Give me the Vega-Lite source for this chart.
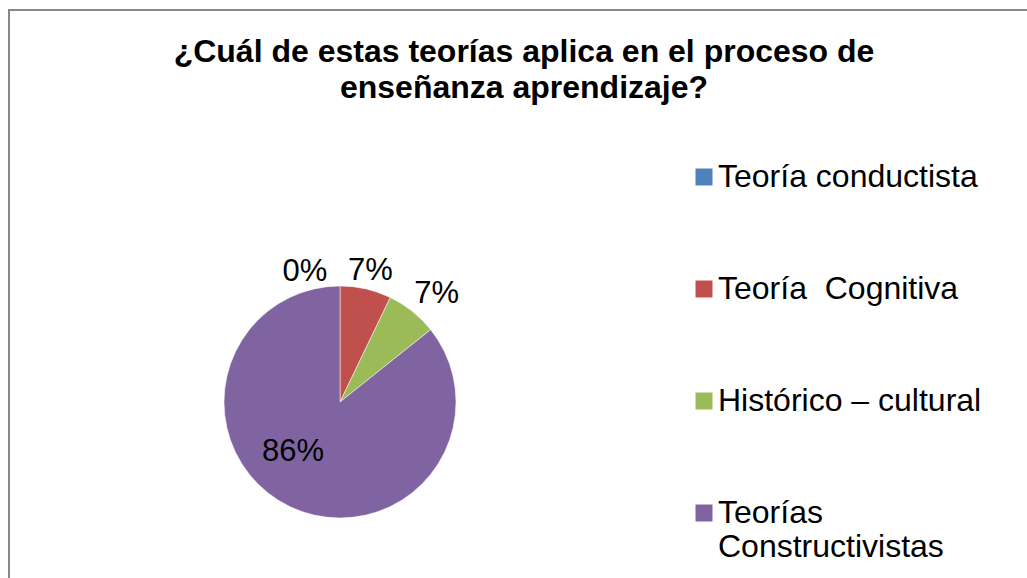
{
  "$schema": "https://vega.github.io/schema/vega-lite/v6.json",
  "width": 1027,
  "height": 578,
  "autosize": {"type": "fit", "contains": "padding"},
  "padding": {"left": 9, "top": 10, "right": -12, "bottom": -12},
  "background": "white",
  "view": {"stroke": "#878787", "strokeWidth": 2},
  "title": {
    "text": ["¿Cuál de estas teorías aplica en el proceso de", "enseñanza aprendizaje?"],
    "font": "Liberation Sans",
    "fontSize": 32,
    "fontWeight": "bold",
    "color": "black",
    "anchor": "middle",
    "frame": "group",
    "lineHeight": 36,
    "offset": -95
  },
  "data": {
    "values": [
      {"idx": 1, "category": "Teoría conductista", "value": 0, "label": "0%"},
      {"idx": 2, "category": "Teoría  Cognitiva", "value": 7.14, "label": "7%"},
      {"idx": 3, "category": "Histórico – cultural", "value": 7.14, "label": "7%"},
      {"idx": 4, "category": "Teorías Constructivistas", "value": 85.72, "label": "86%"}
    ]
  },
  "encoding": {
    "theta": {"field": "value", "type": "quantitative", "stack": true},
    "order": {"field": "idx", "type": "quantitative"}
  },
  "layer": [
    {
      "mark": {"type": "arc", "radius": 116, "x": 331, "y": 392, "stroke": "white", "strokeWidth": 0.5},
      "encoding": {
        "color": {
          "field": "category",
          "type": "nominal",
          "sort": null,
          "scale": {
            "domain": ["Teoría conductista", "Teoría  Cognitiva", "Histórico – cultural", "Teorías Constructivistas"],
            "range": ["#4F81BD", "#C0504D", "#9BBB59", "#8064A2"]
          },
          "legend": {
            "orient": "none",
            "legendX": 679,
            "legendY": 151,
            "title": null,
            "symbolType": "square",
            "symbolSize": 289,
            "symbolStrokeWidth": 0,
            "labelFont": "Liberation Sans",
            "labelFontSize": 32,
            "labelColor": "black",
            "labelOffset": -2,
            "labelLimit": 600,
            "rowPadding": 80,
            "labelExpr": "datum.label == 'Teorías Constructivistas' ? ['Teorías', 'Constructivistas'] : replace(datum.label, '  ', ' \u00a0')"
          }
        }
      }
    },
    {
      "mark": {"type": "text", "radius": 132, "x": 331, "y": 392, "dx": -35, "dy": 2, "font": "Liberation Sans", "fontSize": 31, "color": "black"},
      "encoding": {"text": {"condition": {"test": "datum.idx == 1", "field": "label"}, "value": ""}}
    },
    {
      "mark": {"type": "text", "radius": 137, "x": 331, "y": 392, "dy": 3, "font": "Liberation Sans", "fontSize": 31, "color": "black"},
      "encoding": {"text": {"condition": {"test": "datum.idx == 2", "field": "label"}, "value": ""}}
    },
    {
      "mark": {"type": "text", "radius": 147, "x": 331, "y": 392, "dx": 5, "dy": 7, "font": "Liberation Sans", "fontSize": 31, "color": "black"},
      "encoding": {"text": {"condition": {"test": "datum.idx == 3", "field": "label"}, "value": ""}}
    },
    {
      "mark": {"type": "text", "radius": 67, "x": 331, "y": 392, "dx": -18, "dy": -10, "font": "Liberation Sans", "fontSize": 31, "color": "black"},
      "encoding": {"text": {"condition": {"test": "datum.idx == 4", "field": "label"}, "value": ""}}
    }
  ]
}
